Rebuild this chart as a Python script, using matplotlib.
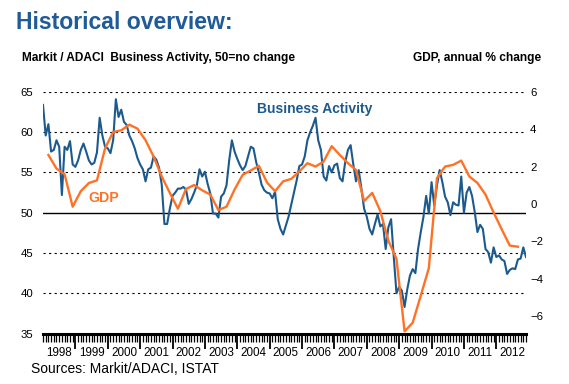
import matplotlib.pyplot as plt
import matplotlib.transforms as mtransforms
import numpy as np

plt.rcParams['font.family'] = ['Liberation Sans', 'DejaVu Sans']

# Markit/ADACI Business Activity index, monthly, Jan 1998 onwards
business_activity = [
    63.4, 59.6, 61.0, 57.6, 57.8, 59.0, 58.2, 52.2, 58.2, 57.8, 58.9, 56.0,
    55.7, 56.5, 57.8, 58.6, 57.6, 56.5, 56.0, 56.2, 57.5, 61.8, 59.6, 58.2,
    58.0, 57.4, 59.0, 64.1, 61.9, 62.8, 61.3, 60.9, 59.6, 58.9, 58.0, 56.8,
    56.0, 55.4, 53.9, 55.4, 55.6, 57.0, 56.6, 55.6, 53.5, 48.6, 48.6, 50.5,
    52.1, 52.5, 53.0, 53.0, 53.2, 52.9, 51.1, 51.7, 52.5, 53.4, 55.4, 54.5,
    55.1, 53.6, 52.4, 49.9, 49.9, 49.4, 52.0, 52.4, 53.4, 56.5, 59.0, 57.6,
    56.7, 55.9, 55.3, 55.8, 57.0, 58.2, 58.0, 56.3, 55.0, 53.5, 52.8, 52.5,
    52.4, 51.8, 52.6, 49.2, 48.0, 47.3, 48.4, 49.5, 51.0, 52.5, 54.0, 55.8,
    56.0, 57.0, 59.0, 60.0, 60.8, 61.8, 59.0, 57.8, 54.5, 54.0, 55.8, 55.0,
    55.9, 56.1, 54.3, 53.9, 56.3, 57.8, 58.4, 56.0, 53.9, 55.3, 53.0, 50.5,
    49.5, 48.0, 47.3, 48.6, 49.8, 48.3, 48.6, 45.5, 48.2, 49.2, 44.5, 40.0,
    40.8, 40.3, 38.3, 40.5, 42.2, 43.0, 42.5, 45.5, 47.6, 49.5, 52.1, 49.9,
    53.8, 50.9, 53.4, 55.3, 53.8, 52.0, 51.3, 49.7, 51.3, 51.0, 50.9, 54.5,
    50.0, 52.5, 53.2, 52.1, 50.1, 47.6, 48.5, 48.0, 45.5, 45.1, 43.8, 45.7,
    44.5, 44.7, 44.2, 44.0, 42.4, 42.9, 43.1, 43.0, 44.2, 44.3, 45.7, 44.5,
]

# GDP, annual % change, quarterly (plotted at the quarter-end month)
gdp = [
    2.63, 1.90, 1.60, -0.14, 0.69, 1.13, 1.27, 2.98, 3.86, 3.95, 4.25, 4.04,
    3.42, 2.54, 1.48, 0.60, -0.25, 0.81, 1.02, 0.74, 0.51, -0.32, -0.14, 0.78,
    1.57, 1.80, 2.05, 1.16, 0.69, 1.22, 1.35, 1.75, 2.19, 2.01, 2.28, 3.10,
    2.63, 2.19, 1.83, 0.16, 0.60, -0.37, -1.96, -2.93, -6.81, -6.35, -4.90, -3.42,
    1.39, 2.01, 2.10, 2.33, 1.48, 1.13, 0.51, -0.45, -1.35, -2.22, -2.28,
]
gdp_first_month = 2
years = list(range(1998, 2013))

title_blue = '#1F5B96'
line_blue = '#1C5A8E'
orange = '#FF7226'

ba_x = years[0] + np.arange(len(business_activity)) / 12
gdp_x = years[0] + (gdp_first_month + 3 * np.arange(len(gdp))) / 12

W, H = 569, 384
fig = plt.figure(figsize=(W / 100, H / 100), dpi=100)
ax = fig.add_axes([43 / W, 1 - 333.5 / H, 483 / W, 241.5 / H])
ax2 = ax.twinx()

# Grid: dashed every 5, solid at 50
for lvl in [40, 45, 55, 60, 65]:
    ax.axhline(lvl, color='black', lw=0.8, dashes=(2, 3), zorder=1)
ax.axhline(50, color='black', lw=1.0, zorder=1)

ax.plot(ba_x, business_activity, color=line_blue, lw=1.5, zorder=3)
ax2.plot(gdp_x, gdp, color=orange, lw=1.7, zorder=3)

ax.set_xlim(years[0], years[0] + (len(business_activity) - 1) / 12)
ax.set_ylim(35, 65)
ax2.set_ylim(-6.925, 5.84)

ax.set_yticks([35, 40, 45, 50, 55, 60, 65])
ax2.set_yticks([-6, -4, -2, 0, 2, 4, 6])
ax.tick_params(axis='y', length=0, pad=7, labelsize=8.2)
ax2.tick_params(axis='y', length=0, pad=3, labelsize=8.2)

# months as minor ticks, years as major ticks, labels centred in each year
ax.set_xticks(years[1:])
ax.set_xticks(ba_x, minor=True)
ax.set_xticklabels([])
ax.tick_params(axis='x', which='major', direction='out', length=11, width=1.3)
ax.tick_params(axis='x', which='minor', direction='out', length=6, width=0.9)
trans = mtransforms.blended_transform_factory(ax.transData, ax.transAxes)
for yr in years:
    ax.text(yr + 0.5, -0.081, str(yr), transform=trans, ha='center', va='center',
            fontsize=8.4)

for a in (ax, ax2):
    for side in ['left', 'right', 'top']:
        a.spines[side].set_visible(False)
    a.spines['bottom'].set_linewidth(2.2)
ax2.spines['bottom'].set_visible(False)

fig.text(16.5 / W, 1 - 29.3 / H, 'Historical overview:', fontsize=16.6,
         fontweight='bold', color=title_blue, va='baseline', ha='left')
fig.text(22.5 / W, 1 - 61 / H, 'Markit / ADACI  Business Activity, 50=no change',
         fontsize=8.6, fontweight='bold', va='baseline', ha='left')
fig.text(541 / W, 1 - 61 / H, 'GDP, annual % change', fontsize=8.6,
         fontweight='bold', va='baseline', ha='right')
fig.text(256.7 / W, 1 - 113.3 / H, 'Business Activity', fontsize=10,
         fontweight='bold', color=line_blue, va='baseline', ha='left')
fig.text(88.3 / W, 1 - 201.7 / H, 'GDP', fontsize=10.2, fontweight='bold',
         color=orange, va='baseline', ha='left')
fig.text(30.7 / W, 1 - 373 / H, 'Sources: Markit/ADACI, ISTAT', fontsize=10,
         va='baseline', ha='left')

fig.savefig('out.png', dpi=100)
